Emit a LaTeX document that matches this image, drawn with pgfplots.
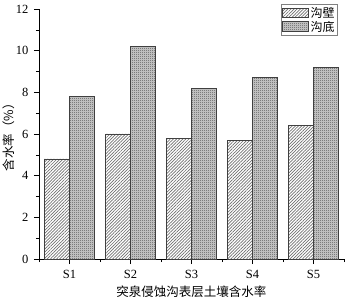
\documentclass[border=0pt]{standalone}
\usepackage{fontspec}
\setmainfont{Liberation Serif}
\newfontfamily\cjk{Noto Sans CJK SC}
\usepackage{pgfplots}
\pgfplotsset{compat=1.18}
\usetikzlibrary{patterns,patterns.meta}
\definecolor{edge}{HTML}{404040}
\definecolor{hatch}{HTML}{707070}
\definecolor{dots}{HTML}{505050}
\definecolor{dotbg}{HTML}{D0D0D0}
\tikzdeclarepattern{
  name=checker,
  type=uncolored,
  bottom left={(0pt,0pt)},
  top right={(2pt,2pt)},
  tile size={(2pt,2pt)},
  code={
    \pgfpathrectangle{\pgfpoint{0pt}{0pt}}{\pgfpoint{1pt}{1pt}}
    \pgfpathrectangle{\pgfpoint{1pt}{1pt}}{\pgfpoint{1pt}{1pt}}
    \pgfusepath{fill}
  }
}
\begin{document}
\begin{tikzpicture}
\begin{axis}[
  scale only axis,
  width=305pt, height=250pt,
  ybar, bar width=25pt, ybar=0pt,
  ymin=0, ymax=12,
  xmin=0.5, xmax=5.5,
  xtick={1,2,3,4,5},
  xticklabels={S1,S2,S3,S4,S5},
  minor xtick={0.5,1.5,2.5,3.5,4.5,5.5},
  ytick={0,2,4,6,8,10,12},
  minor y tick num=1,
  axis x line*=bottom, axis y line*=left,
  tick align=outside,
  major tick length=5pt, minor tick length=3pt,
  every tick/.style={black, line width=0.6pt},
  axis line style={black, line width=0.8pt},
  /pgf/number format/assume math mode=true,
  tick label style={font=\fontsize{12.5}{14}\selectfont},
  xticklabel style={yshift=-3pt},
  yticklabel style={xshift=-2pt},
  xlabel={\cjk 突泉侵蚀沟表层土壤含水率},
  ylabel={\cjk 含水率（\%）},
  label style={font=\fontsize{12.5}{14}\selectfont},
  xlabel style={yshift=0pt},
  ylabel style={yshift=-6pt},
  legend style={at={(rel axis cs:0.98,1.02)}, anchor=north east, draw=gray, line width=0.6pt,
    font=\fontsize{12}{14}\selectfont\cjk, inner sep=1pt, row sep=-2pt},
  legend image code/.code={\draw[#1] (0pt,-4.5pt) rectangle (26pt,5pt);},
]
\addplot[draw=edge, line width=0.6pt, pattern={Lines[angle=45,distance=2.2pt,line width=0.7pt]}, pattern color=hatch]
  coordinates {(1,4.8) (2,6.0) (3,5.8) (4,5.7) (5,6.4)};
\addlegendentry{沟壁}
\addplot[draw=edge, line width=0.6pt, fill=dotbg, postaction={pattern=checker, pattern color=dots}]
  coordinates {(1,7.8) (2,10.2) (3,8.2) (4,8.7) (5,9.2)};
\addlegendentry{沟底}
\end{axis}
\pgfresetboundingbox
\path[use as bounding box] (-39pt,-41pt) rectangle (309pt,259pt);
\end{tikzpicture}
\end{document}
